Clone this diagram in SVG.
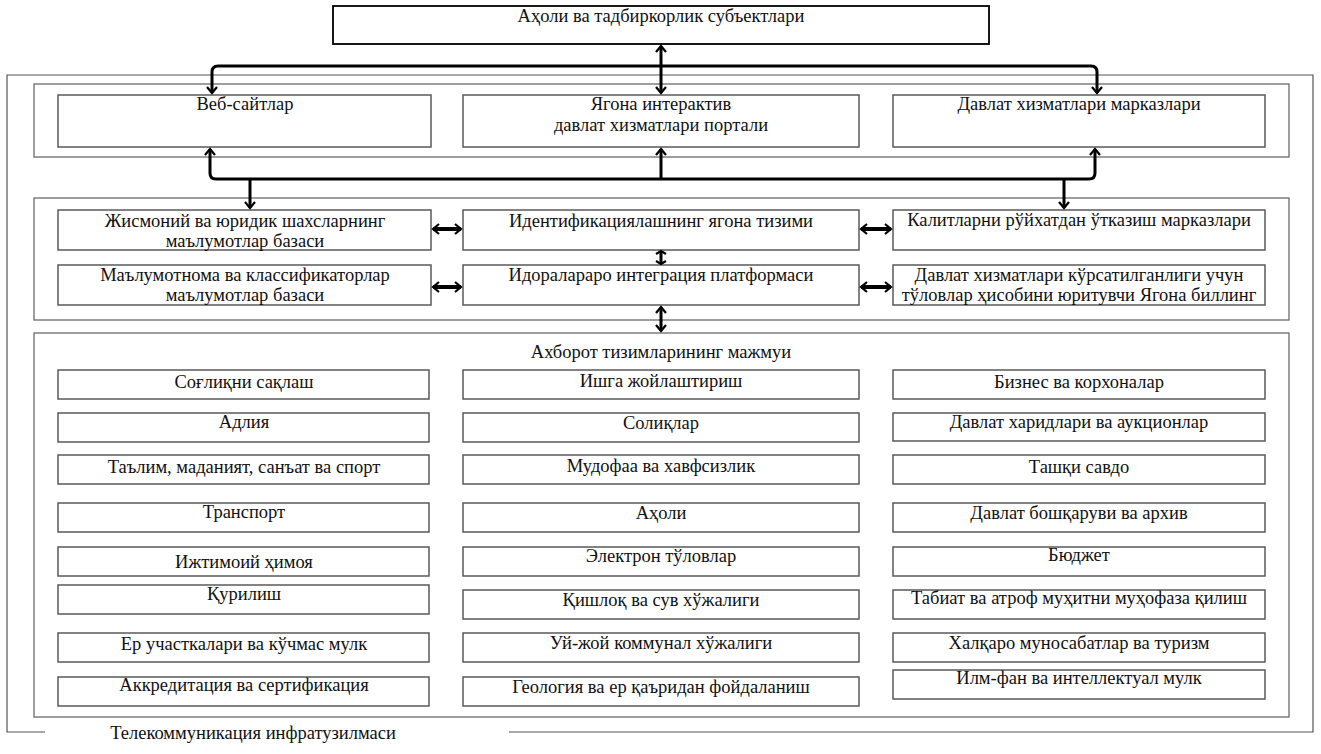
<svg xmlns="http://www.w3.org/2000/svg" width="1321" height="754" viewBox="0 0 1321 754">
<style>
text{font-family:"Liberation Serif","DejaVu Serif",serif;font-size:18.5px;text-anchor:middle;fill:#111}
.box{fill:#fff;stroke:#5a5a5a;stroke-width:1.5}
.panel{fill:none;stroke:#6a6a6a;stroke-width:1.3}
.frame{fill:none;stroke:#555;stroke-width:1.2}
.top{fill:#fff;stroke:#000;stroke-width:1.8}
.conn{fill:none;stroke:#000;stroke-width:3}
.thick{stroke-width:4}
</style>
<defs>
<marker id="ah" viewBox="0 0 12 12" refX="10" refY="6" markerWidth="12" markerHeight="12" markerUnits="userSpaceOnUse" orient="auto-start-reverse">
<path d="M4,1 L10,6 L4,11" fill="none" stroke="#000" stroke-width="2.2" stroke-linejoin="miter"/>
</marker>
<marker id="ahs" viewBox="0 0 12 12" refX="10" refY="6" markerWidth="12" markerHeight="12" markerUnits="userSpaceOnUse" orient="auto-start-reverse">
<path d="M7,1 L10,6 L7,11" fill="none" stroke="#000" stroke-width="2.2" stroke-linejoin="miter"/>
</marker>
</defs>
<rect width="1321" height="754" fill="#fff"/>
<g id="frame">
<path class="frame" d="M45,732 L7,732 L7,75 L1313,75 L1313,732 L509,732"/>
<text x="253" y="739">Телекоммуникация инфратузилмаси</text>
</g>
<g id="panel1"><rect class="panel" x="34" y="84" width="1255" height="73"/></g>
<g id="panel2"><rect class="panel" x="34" y="198" width="1255" height="122"/></g>
<g id="panel3"><rect class="panel" x="34" y="333" width="1255" height="384"/>
<text x="661" y="358">Ахборот тизимларининг мажмуи</text></g>

<g id="n-top"><rect class="top" x="333" y="6" width="656" height="38"/><text x="661" y="22">Аҳоли ва тадбиркорлик субъектлари</text></g>
<g id="n-web"><rect class="box" x="58" y="95" width="373" height="52"/><text x="245" y="110">Веб-сайтлар</text></g>
<g id="n-portal"><rect class="box" x="463" y="95" width="396" height="52"/><text x="661" y="110">Ягона интерактив</text><text x="661" y="131">давлат хизматлари портали</text></g>
<g id="n-centers"><rect class="box" x="893" y="95" width="372" height="52"/><text x="1079" y="110">Давлат хизматлари марказлари</text></g>

<g id="n-db1"><rect class="box" x="58" y="210" width="373" height="40"/><text x="245" y="227">Жисмоний ва юридик шахсларнинг</text><text x="245" y="247">маълумотлар базаси</text></g>
<g id="n-ident"><rect class="box" x="463" y="210" width="396" height="40"/><text x="661" y="227">Идентификациялашнинг ягона тизими</text></g>
<g id="n-keys"><rect class="box" x="893" y="210" width="372" height="40"/><text x="1079" y="226">Калитларни рўйхатдан ўтказиш марказлари</text></g>
<g id="n-db2"><rect class="box" x="58" y="265" width="373" height="40"/><text x="245" y="281">Маълумотнома ва классификаторлар</text><text x="245" y="301">маълумотлар базаси</text></g>
<g id="n-integr"><rect class="box" x="463" y="265" width="396" height="40"/><text x="661" y="281">Идоралараро интеграция платформаси</text></g>
<g id="n-billing"><rect class="box" x="893" y="265" width="372" height="40"/><text x="1079" y="281">Давлат хизматлари кўрсатилганлиги учун</text><text x="1079" y="301">тўловлар ҳисобини юритувчи Ягона биллинг</text></g>

<g id="c1r1"><rect class="box" x="58" y="370" width="371" height="29"/><text x="244" y="388">Соғлиқни сақлаш</text></g>
<g id="c1r2"><rect class="box" x="58" y="413" width="371" height="29"/><text x="244" y="428">Адлия</text></g>
<g id="c1r3"><rect class="box" x="58" y="455" width="371" height="29"/><text x="244" y="473">Таълим, маданият, санъат ва спорт</text></g>
<g id="c1r4"><rect class="box" x="58" y="503" width="371" height="29"/><text x="244" y="518">Транспорт</text></g>
<g id="c1r5"><rect class="box" x="58" y="547" width="371" height="29"/><text x="244" y="568">Ижтимоий ҳимоя</text></g>
<g id="c1r6"><rect class="box" x="58" y="585" width="371" height="29"/><text x="244" y="600">Қурилиш</text></g>
<g id="c1r7"><rect class="box" x="58" y="633" width="371" height="29"/><text x="244" y="650">Ер участкалари ва кўчмас мулк</text></g>
<g id="c1r8"><rect class="box" x="58" y="677" width="371" height="29"/><text x="244" y="691">Аккредитация ва сертификация</text></g>

<g id="c2r1"><rect class="box" x="463" y="370" width="396" height="29"/><text x="661" y="387">Ишга жойлаштириш</text></g>
<g id="c2r2"><rect class="box" x="463" y="413" width="396" height="29"/><text x="661" y="429">Солиқлар</text></g>
<g id="c2r3"><rect class="box" x="463" y="455" width="396" height="29"/><text x="661" y="472">Мудофаа ва хавфсизлик</text></g>
<g id="c2r4"><rect class="box" x="463" y="503" width="396" height="29"/><text x="661" y="519">Аҳоли</text></g>
<g id="c2r5"><rect class="box" x="463" y="547" width="396" height="29"/><text x="661" y="562">Электрон тўловлар</text></g>
<g id="c2r6"><rect class="box" x="463" y="590" width="396" height="29"/><text x="661" y="606">Қишлоқ ва сув хўжалиги</text></g>
<g id="c2r7"><rect class="box" x="463" y="633" width="396" height="29"/><text x="661" y="649">Уй-жой коммунал хўжалиги</text></g>
<g id="c2r8"><rect class="box" x="463" y="677" width="396" height="29"/><text x="661" y="693">Геология ва ер қаъридан фойдаланиш</text></g>

<g id="c3r1"><rect class="box" x="893" y="370" width="372" height="29"/><text x="1079" y="388">Бизнес ва корхоналар</text></g>
<g id="c3r2"><rect class="box" x="893" y="413" width="372" height="28"/><text x="1079" y="428">Давлат харидлари ва аукционлар</text></g>
<g id="c3r3"><rect class="box" x="893" y="455" width="372" height="29"/><text x="1079" y="473">Ташқи савдо</text></g>
<g id="c3r4"><rect class="box" x="893" y="503" width="372" height="29"/><text x="1079" y="519">Давлат бошқаруви ва архив</text></g>
<g id="c3r5"><rect class="box" x="893" y="547" width="372" height="29"/><text x="1079" y="561">Бюджет</text></g>
<g id="c3r6"><rect class="box" x="893" y="590" width="372" height="29"/><text x="1079" y="604">Табиат ва атроф муҳитни муҳофаза қилиш</text></g>
<g id="c3r7"><rect class="box" x="893" y="633" width="372" height="29"/><text x="1079" y="649">Халқаро муносабатлар ва туризм</text></g>
<g id="c3r8"><rect class="box" x="893" y="670" width="372" height="29"/><text x="1079" y="684">Илм-фан ва интеллектуал мулк</text></g>

<g id="connectors">
<path class="conn" d="M661,46 L661,93" marker-start="url(#ah)" marker-end="url(#ah)"/>
<path class="conn" d="M212,93 L212,72 Q212,66 218,66 L1091,66 Q1097,66 1097,72 L1097,93" marker-start="url(#ah)" marker-end="url(#ah)"/>
<path class="conn" d="M210,149 L210,173 Q210,179 216,179 L1089,179 Q1095,179 1095,173 L1095,149" marker-start="url(#ah)" marker-end="url(#ah)"/>
<path class="conn" d="M661,179 L661,149" marker-end="url(#ah)"/>
<path class="conn" d="M250,179 L250,208" marker-end="url(#ah)"/>
<path class="conn" d="M1064,179 L1064,208" marker-end="url(#ah)"/>
<path class="conn thick" d="M433,229 L461,229" marker-start="url(#ah)" marker-end="url(#ah)"/>
<path class="conn thick" d="M433,287 L461,287" marker-start="url(#ah)" marker-end="url(#ah)"/>
<path class="conn thick" d="M861,229 L891,229" marker-start="url(#ah)" marker-end="url(#ah)"/>
<path class="conn thick" d="M861,287 L891,287" marker-start="url(#ah)" marker-end="url(#ah)"/>
<path class="conn" d="M661,251 L661,264" marker-start="url(#ahs)" marker-end="url(#ahs)"/>
<path class="conn" d="M661,307 L661,331" marker-start="url(#ah)" marker-end="url(#ah)"/>
</g>
</svg>
